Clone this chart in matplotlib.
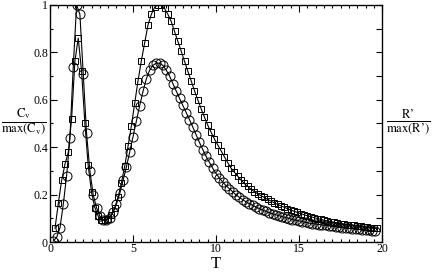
import matplotlib
matplotlib.use("Agg")
import matplotlib.pyplot as plt
from matplotlib.ticker import MultipleLocator, NullFormatter

plt.rcParams['font.family'] = ['Liberation Serif', 'DejaVu Serif']
plt.rcParams['mathtext.fontset'] = 'stix'

# C_v / max(C_v), circles
t_cv = [0.2, 0.4, 0.6, 0.8, 1.0, 1.2, 1.4, 1.6, 1.8, 2.0,
        2.2, 2.4, 2.6, 2.8, 3.0, 3.2, 3.4, 3.6, 3.8, 4.0,
        4.2, 4.4, 4.6, 4.8, 5.0, 5.2, 5.4, 5.6, 5.8, 6.0,
        6.2, 6.4, 6.6, 6.8, 7.0, 7.2, 7.4, 7.6, 7.8, 8.0,
        8.2, 8.4, 8.6, 8.8, 9.0, 9.2, 9.4, 9.6, 9.8, 10.0,
        10.2, 10.4, 10.6, 10.8, 11.0, 11.2, 11.4, 11.6, 11.8, 12.0,
        12.2, 12.4, 12.6, 12.8, 13.0, 13.2, 13.4, 13.6, 13.8, 14.0,
        14.2, 14.4, 14.6, 14.8, 15.0, 15.2, 15.4, 15.6, 15.8, 16.0,
        16.2, 16.4, 16.6, 16.8, 17.0, 17.2, 17.4, 17.6, 17.8, 18.0,
        18.2, 18.4, 18.6, 18.8, 19.0, 19.2, 19.4, 19.6]
cv = [0.005, 0.02, 0.06, 0.16, 0.28, 0.44, 0.74, 1.0, 0.96, 0.71,
      0.46, 0.30, 0.20, 0.145, 0.11, 0.093, 0.093, 0.103, 0.125, 0.16,
      0.205, 0.26, 0.317, 0.38, 0.445, 0.51, 0.575, 0.635, 0.688, 0.725,
      0.745, 0.755, 0.754, 0.745, 0.725, 0.70, 0.668, 0.637, 0.606, 0.576,
      0.546, 0.516, 0.485, 0.452, 0.42, 0.39, 0.362, 0.336, 0.311, 0.289,
      0.27, 0.253, 0.238, 0.225, 0.212, 0.199, 0.189, 0.179, 0.17, 0.162,
      0.155, 0.148, 0.141, 0.135, 0.129, 0.124, 0.119, 0.115, 0.111, 0.107,
      0.103, 0.099, 0.095, 0.092, 0.089, 0.086, 0.083, 0.08, 0.078, 0.076,
      0.074, 0.072, 0.07, 0.068, 0.066, 0.064, 0.063, 0.061, 0.06, 0.058,
      0.057, 0.055, 0.054, 0.052, 0.051, 0.05, 0.048, 0.047]

# R' / max(R'), squares
t_r = [0.3, 0.5, 0.7, 0.9, 1.1, 1.3, 1.5, 1.7, 1.9, 2.1,
       2.3, 2.5, 2.7, 2.9, 3.1, 3.3, 3.5, 3.7, 3.9, 4.1,
       4.3, 4.5, 4.7, 4.9, 5.1, 5.3, 5.5, 5.7, 5.9, 6.1,
       6.3, 6.5, 6.7, 6.9, 7.1, 7.3, 7.5, 7.7, 7.9, 8.1,
       8.3, 8.5, 8.7, 8.9, 9.1, 9.3, 9.5, 9.7, 9.9, 10.1,
       10.3, 10.5, 10.7, 10.9, 11.1, 11.3, 11.5, 11.7, 11.9, 12.1,
       12.3, 12.5, 12.7, 12.9, 13.1, 13.3, 13.5, 13.7, 13.9, 14.1,
       14.3, 14.5, 14.7, 14.9, 15.1, 15.3, 15.5, 15.7, 15.9, 16.1,
       16.3, 16.5, 16.7, 16.9, 17.1, 17.3, 17.5, 17.7, 17.9, 18.1,
       18.3, 18.5, 18.7, 18.9, 19.1, 19.3, 19.5, 19.7]
rp = [0.058, 0.163, 0.26, 0.328, 0.378, 0.52, 0.763, 0.86, 0.72, 0.50,
      0.323, 0.21, 0.145, 0.11, 0.095, 0.092, 0.098, 0.115, 0.145, 0.19,
      0.25, 0.32, 0.405, 0.49, 0.585, 0.68, 0.765, 0.84, 0.915, 0.96,
      0.99, 1.0, 1.0, 0.985, 0.96, 0.93, 0.888, 0.846, 0.805, 0.762,
      0.72, 0.68, 0.638, 0.60, 0.562, 0.527, 0.493, 0.463, 0.435, 0.41,
      0.385, 0.36, 0.335, 0.312, 0.295, 0.278, 0.262, 0.247, 0.235, 0.223,
      0.213, 0.204, 0.196, 0.188, 0.18, 0.173, 0.166, 0.159, 0.153, 0.147,
      0.141, 0.135, 0.13, 0.125, 0.12, 0.115, 0.111, 0.107, 0.103, 0.099,
      0.096, 0.092, 0.089, 0.086, 0.083, 0.081, 0.078, 0.076, 0.074, 0.072,
      0.07, 0.068, 0.066, 0.064, 0.062, 0.061, 0.059, 0.058]

y_ticks = [0, 0.2, 0.4, 0.6, 0.8, 1.0]
y_labels = ['0', '0.2', '0.4', '0.6', '0.8', '1']


def main():
    fig = plt.figure(figsize=(4.33, 2.72), dpi=100)
    ax = fig.add_axes([0.1155, 0.11, 0.767, 0.872])

    ax.plot(t_r, rp, '-s', color='black', lw=0.8, ms=5,
            mfc='none', mec='black', mew=0.7)
    ax.plot(t_cv, cv, '-o', color='black', lw=0.8, ms=6.5,
            mfc='none', mec='black', mew=0.7)

    ax.set_xlim(0, 20)
    ax.set_ylim(0, 1)
    ax.xaxis.set_major_locator(MultipleLocator(5))
    ax.xaxis.set_minor_locator(MultipleLocator(0.5))
    ax.set_yticks(y_ticks)
    ax.set_yticklabels(y_labels)
    ax.yaxis.set_minor_locator(MultipleLocator(0.1))
    ax.tick_params(which='both', direction='in', top=True, right=False,
                   labelsize=8.5, width=0.8, pad=1.5)
    ax.tick_params(axis='x', pad=1)
    ax.tick_params(which='major', length=5)
    ax.tick_params(which='minor', length=2.5)
    for s in ax.spines.values():
        s.set_linewidth(0.9)

    # right axis: ticks every 0.1, no labels
    ax2 = ax.twinx()
    ax2.set_ylim(0, 1)
    ax2.yaxis.set_major_locator(MultipleLocator(0.1))
    ax2.yaxis.set_major_formatter(NullFormatter())
    ax2.tick_params(direction='in', length=4, width=0.8)

    fig.text(0.499, 0.0, 'T', fontsize=12, ha='center', va='bottom')
    fig.text(0.055, 0.55, r'$\frac{\mathrm{C_v}}{\mathrm{max(C_v)}}$',
             fontsize=13, ha='center', va='center')
    fig.text(0.942, 0.55, r'$\frac{\mathrm{R’}}{\mathrm{max(R’)}}$',
             fontsize=13, ha='center', va='center')

    fig.savefig('out.png', dpi=100)


if __name__ == "__main__":
    main()
